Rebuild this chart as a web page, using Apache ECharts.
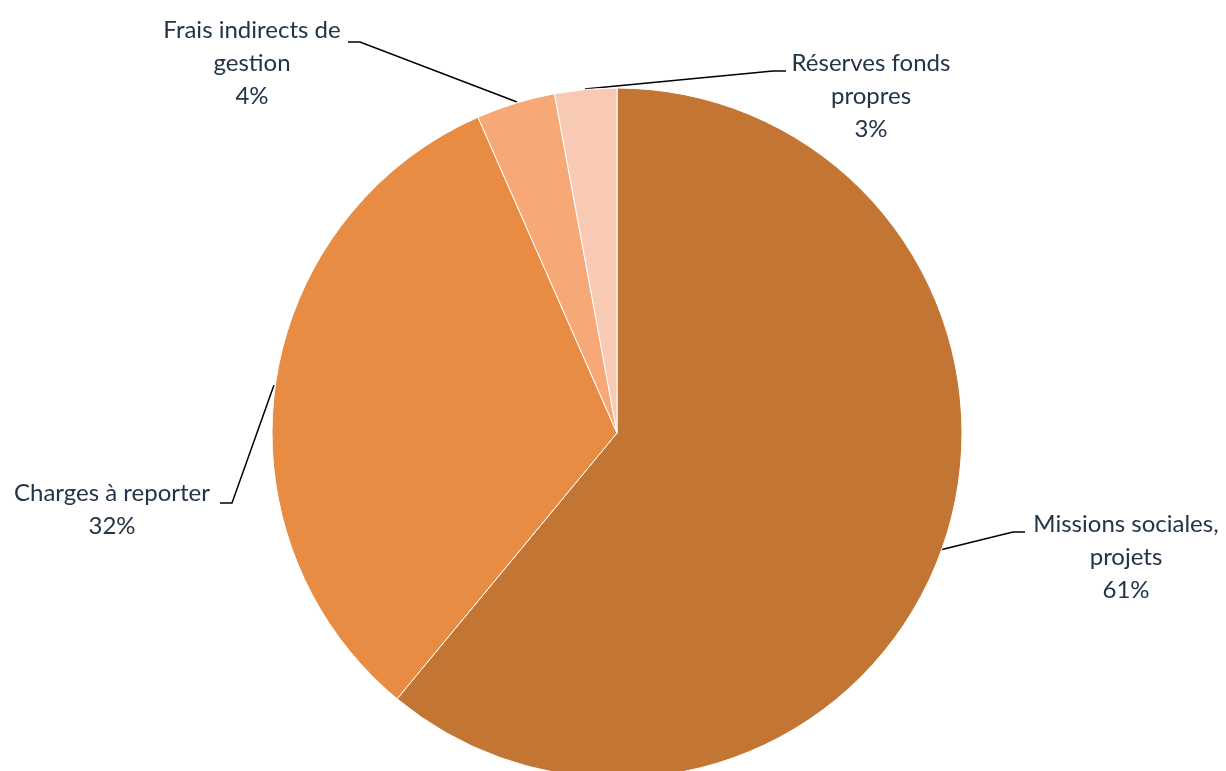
<!DOCTYPE html>
<html><head><meta charset="utf-8">
<script src="https://cdn.jsdelivr.net/npm/echarts@6/dist/echarts.min.js"></script>
<style>html,body{margin:0;padding:0;background:#fff}#c{width:1226px;height:771px}</style>
</head><body><div id="c"></div>
<script>
const categories = ['Missions sociales,\nprojets', 'Charges à reporter', 'Frais indirects de\ngestion', 'Réserves fonds\npropres'];
const values = [61.0, 32.4, 3.7, 2.9];
const colors = ['#C37534', '#E78C42', '#F6A877', '#F8CAB4'];

const labelPos = [
  {x: 1126, y: 557, line: [[940, 550], [1013, 532], [1025, 532]]},
  {x: 112, y: 510, line: [[274, 385], [232, 503], [220, 503]]},
  {x: 252, y: 63, line: [[517, 102], [360, 42], [348, 42]]},
  {x: 871, y: 96, line: [[585, 89], [773, 71], [786, 71]]}
];

const chart = echarts.init(document.getElementById('c'));
chart.setOption({
  animation: false,
  series: [{
    type: 'pie',
    z: 2,
    center: [617, 433],
    radius: 345,
    startAngle: 90,
    clockwise: true,
    avoidLabelOverlap: false,
    percentPrecision: 0,
    data: categories.map((n, i) => ({name: n, value: values[i], itemStyle: {color: colors[i]}})),
    itemStyle: {borderColor: '#fff', borderWidth: 1},
    label: {
      show: true,
      position: 'outside',
      formatter: '{b}\n{d}%',
      fontFamily: 'Lato, Calibri, sans-serif',
      fontSize: 24,
      lineHeight: 33,
      color: '#243447',
      align: 'center'
    },
    labelLine: {show: true, smooth: false, lineStyle: {color: '#000', width: 1.5}},
    emphasis: {disabled: true},
    labelLayout: function (p) {
      const lp = labelPos[p.dataIndex];
      return {x: lp.x, y: lp.y, align: 'center', verticalAlign: 'middle', labelLinePoints: lp.line};
    }
  }]
});
</script></body></html>
